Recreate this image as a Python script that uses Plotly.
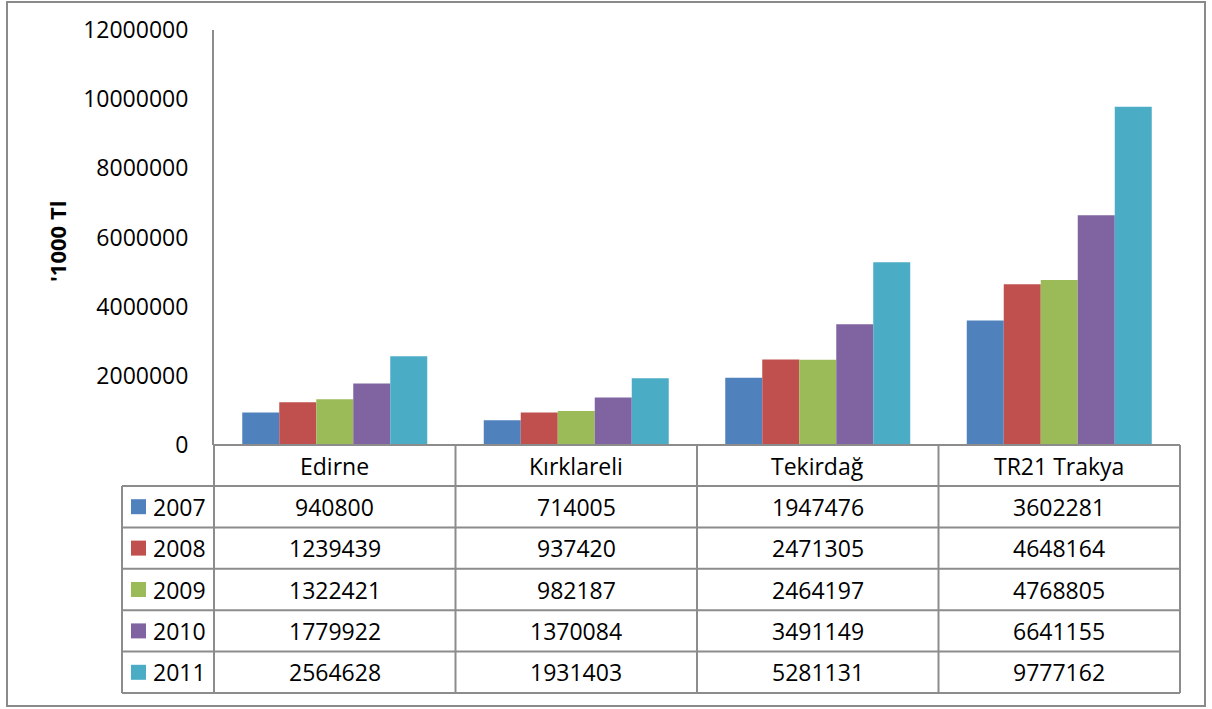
import plotly.graph_objects as go

categories = ["Edirne", "Kırklareli", "Tekirdağ", "TR21 Trakya"]
years = ["2007", "2008", "2009", "2010", "2011"]
v2007 = [940800, 714005, 1947476, 3602281]
v2008 = [1239439, 937420, 2471305, 4648164]
v2009 = [1322421, 982187, 2464197, 4768805]
v2010 = [1779922, 1370084, 3491149, 6641155]
v2011 = [2564628, 1931403, 5281131, 9777162]
series = [v2007, v2008, v2009, v2010, v2011]
colors = ["#4F81BD", "#C0504D", "#9BBB59", "#8064A2", "#4BACC6"]
y_ticks = [0, 2000000, 4000000, 6000000, 8000000, 10000000, 12000000]
y_title = "'1000 Tl"

W, H = 1212, 709
L, R, T, B = 214, 1180, 30, 445
FONT = "Open Sans"
FS = 23
GRID = "#8C8C8C"


def px(x):
    return (x - L) / (R - L)


def py(y):
    return (B - y) / (B - T)


fig = go.Figure()
for yr, vals, col in zip(years, series, colors):
    fig.add_trace(go.Bar(x=categories, y=vals, name=yr, marker=dict(color=col, line=dict(width=0))))

shapes = []
annotations = []

# outer border
shapes.append(dict(type="rect", xref="paper", yref="paper", x0=px(7), x1=px(1205), y0=py(706), y1=py(2),
                   line=dict(color="#8A8A8A", width=2), layer="below"))

# table geometry
col_w = (R - L) / len(categories)
col_edges = [L + i * col_w for i in range(len(categories) + 1)]
header_top, header_bot = B, 486
row_h = (693 - 486) / len(years)
row_edges = [header_bot + i * row_h for i in range(len(years) + 1)]
left_x = 122

line = dict(color=GRID, width=2)
for xe in col_edges:
    shapes.append(dict(type="line", xref="paper", yref="paper", x0=px(xe), x1=px(xe),
                       y0=py(header_top), y1=py(row_edges[-1]), line=line))
shapes.append(dict(type="line", xref="paper", yref="paper", x0=px(left_x), x1=px(left_x),
                   y0=py(header_bot), y1=py(row_edges[-1]), line=line))
shapes.append(dict(type="line", xref="paper", yref="paper", x0=px(L), x1=px(R),
                   y0=py(header_top), y1=py(header_top), line=line))
for ye in row_edges:
    shapes.append(dict(type="line", xref="paper", yref="paper", x0=px(left_x), x1=px(R),
                       y0=py(ye), y1=py(ye), line=line))

for i, c in enumerate(categories):
    annotations.append(dict(xref="paper", yref="paper", x=px(col_edges[i] + col_w / 2),
                            y=py((header_top + header_bot) / 2), text=c, showarrow=False,
                            font=dict(family=FONT, size=FS, color="black"), xanchor="center", yanchor="middle"))

for r, (yr, vals, col) in enumerate(zip(years, series, colors)):
    yc = (row_edges[r] + row_edges[r + 1]) / 2
    shapes.append(dict(type="rect", xref="paper", yref="paper", x0=px(131), x1=px(146),
                       y0=py(yc + 7.5), y1=py(yc - 7.5), fillcolor=col, line=dict(width=0)))
    annotations.append(dict(xref="paper", yref="paper", x=px(151), y=py(yc), text=yr, showarrow=False,
                            font=dict(family=FONT, size=FS, color="black"), xanchor="left", yanchor="middle"))
    for i, v in enumerate(vals):
        annotations.append(dict(xref="paper", yref="paper", x=px(col_edges[i] + col_w / 2), y=py(yc),
                                text=str(v), showarrow=False,
                                font=dict(family=FONT, size=FS, color="black"), xanchor="center", yanchor="middle"))

annotations.append(dict(xref="paper", yref="paper", x=px(57), y=py(242), text="<b>" + y_title + "</b>",
                        showarrow=False, textangle=-90, font=dict(family=FONT, size=22, color="black"),
                        xanchor="center", yanchor="middle"))

fig.update_layout(
    width=W, height=H,
    margin=dict(l=L, r=W - R, t=T, b=H - B, pad=0),
    paper_bgcolor="white", plot_bgcolor="white",
    barmode="group", bargap=0.234, bargroupgap=0,
    showlegend=False,
    shapes=shapes, annotations=annotations,
    font=dict(family=FONT, color="black"),
)
fig.update_xaxes(showticklabels=False, showgrid=False, zeroline=False, showline=False, ticks="",
                 range=[-0.5, 3.5])
fig.update_yaxes(range=[0, 12000000], tickvals=y_ticks, ticktext=[str(t) for t in y_ticks],
                 showgrid=False, zeroline=False, showline=True, linecolor=GRID, linewidth=2,
                 ticks="", ticklabelstandoff=19, tickfont=dict(family=FONT, size=FS, color="black"))

fig.write_html("out.html", config={"displayModeBar": False},
               post_script="document.body.style.margin='0';document.body.style.overflow='hidden';")
